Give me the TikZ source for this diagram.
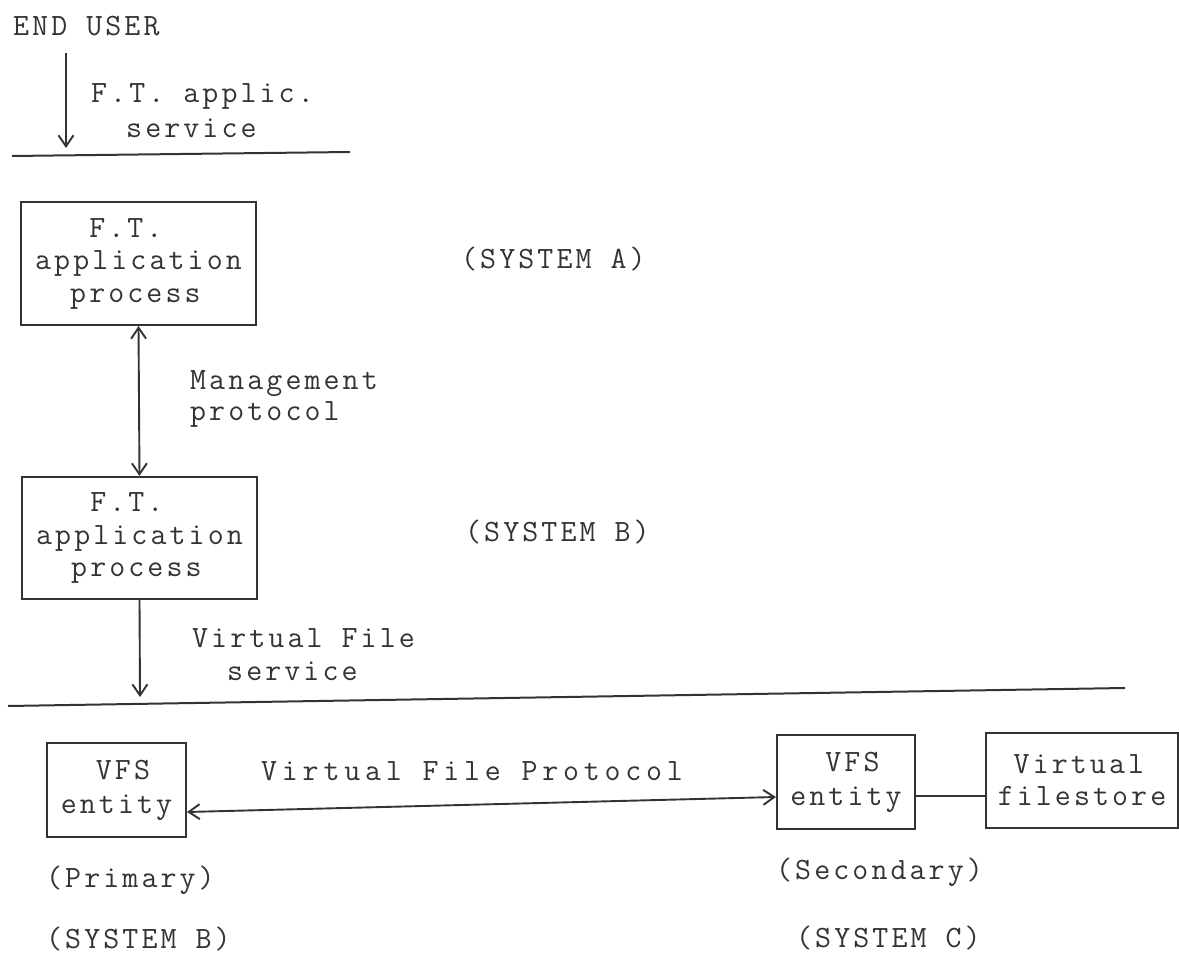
\documentclass[tikz,border=0pt]{standalone}
\usepackage{fontspec}
\setmainfont{Latin Modern Mono}[LetterSpace=10]
\usetikzlibrary{arrows.meta}

\definecolor{ink}{gray}{0.2}

\tikzset{
  every picture/.style={x=1pt,y=-1pt},
  txt/.style={anchor=base west,inner sep=0pt,text=ink,align=left,
    font=\fontsize{31}{32.5}\selectfont},
  pbox/.style={draw=ink,line width=2.1pt,inner sep=0pt,align=left,text=ink,
    font=\fontsize{31}{32.5}\selectfont},
  sbox/.style={pbox,font=\fontsize{31}{34}\selectfont},
  conn/.style={draw=ink,line width=1.9pt},
  barb/.tip={Straight Barb[length=11pt,width=15pt,line width=1.9pt]},
  cut/.style={draw=ink,line width=2pt}
}

\begin{document}
\begin{tikzpicture}
\useasboundingbox (0,0) rectangle (1179,957);

% end user and the application service boundary
\node[txt] (user) at (13,36) {END USER};
\coordinate (u1) at (66,53);
\coordinate (u2) at (66,148);
\draw[conn,-barb] (u1) -- (u2);
\node[txt,font=\fontsize{31}{35}\selectfont] (svc1) at (91,138) {F.T. applic.\\\phantom{xx}service};
\coordinate (c1a) at (12,156);
\coordinate (c1b) at (350,152);
\draw[cut] (c1a) -- (c1b);

% system A and system B application processes
\node[pbox,minimum width=235pt,minimum height=123pt] (apA) at (138.5,263.5)
  {\phantom{xxx}F.T.\\application\\\phantom{xx}process};
\node[txt] (sysA) at (461,269) {(SYSTEM A)};

\node[pbox,minimum width=235pt,minimum height=122pt] (apB) at (139.5,538)
  {\phantom{xxx}F.T.\\application\\\phantom{xx}process};
\node[txt] (sysB) at (465,542) {(SYSTEM B)};

\draw[conn,barb-barb] (apA.south) -- (apB.north);
\node[txt,font=\fontsize{31}{31}\selectfont] (mgmt) at (190,421) {Management\\protocol};

% virtual file service boundary
\coordinate (v2) at (140,697);
\draw[conn,-barb] (apB.south) -- (v2);
\node[txt,font=\fontsize{31}{33}\selectfont] (svc2) at (192,680) {Virtual File\\\phantom{xx}service};
\coordinate (c2a) at (8,706);
\coordinate (c2b) at (1125,688);
\draw[cut] (c2a) -- (c2b);

% VFS entities and the virtual filestore
\node[sbox,minimum width=139pt,minimum height=94pt] (vfsP) at (116.5,790)
  {\phantom{xx}VFS\\entity};
\node[sbox,minimum width=138pt,minimum height=94pt] (vfsS) at (846,782)
  {\phantom{xx}VFS\\entity};
\node[sbox,font=\fontsize{31}{32}\selectfont,minimum width=192pt,minimum height=95pt] (store) at (1082,780.5)
  {\phantom{x}Virtual\\filestore};

\draw[conn,barb-barb] ([yshift=-22pt]vfsP.east) -- ([yshift=-15pt]vfsS.west);
\node[txt,font=\fontsize{31}{32.5}\selectfont\addfontfeatures{LetterSpace=15.5}] (vfp) at (261,780) {Virtual File Protocol};
\draw[conn] ([yshift=-14pt]vfsS.east) -- ([yshift=-14pt]vfsS.east -| store.west);

\node[txt] (prim) at (46,887) {(Primary)};
\node[txt] (sysB2) at (46,948) {(SYSTEM B)};
\node[txt] (sec) at (776,879) {(Secondary)};
\node[txt] (sysC) at (796,947) {(SYSTEM C)};
\end{tikzpicture}
\end{document}
